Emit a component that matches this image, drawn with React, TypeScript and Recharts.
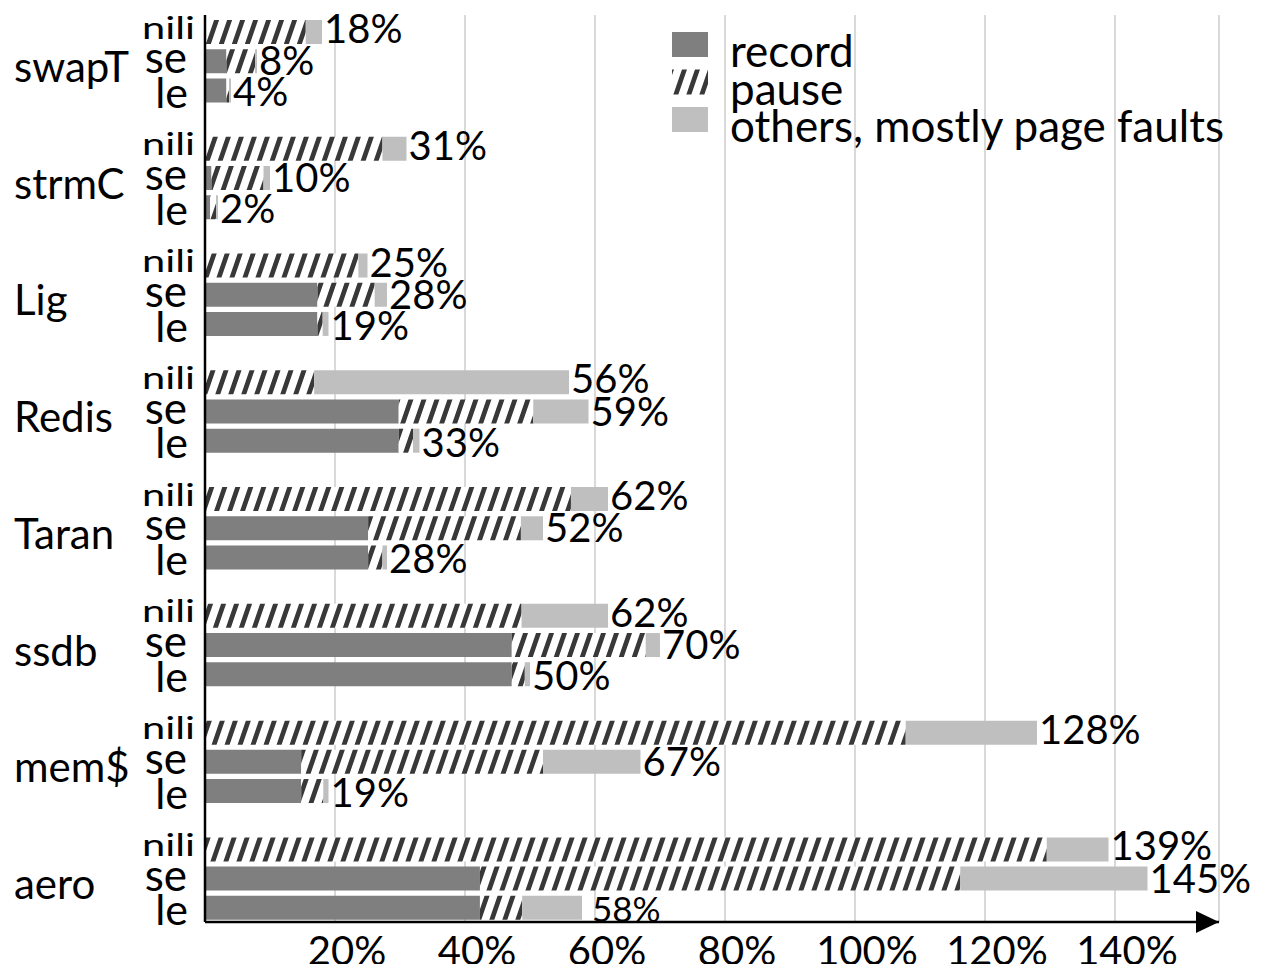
import React from "react";
import {
  BarChart,
  Bar,
  XAxis,
  YAxis,
  CartesianGrid,
  LabelList,
  Legend,
} from "recharts";

const groups = ["swapT", "strmC", "Lig", "Redis", "Taran", "ssdb", "mem$", "aero"];
const modes = ["nili", "se", "le"];

// overhead in % per group, columns are [nili, se, le]
const record = [
  [0, 3.3, 3.3],
  [0, 1.0, 0.8],
  [0, 17.3, 17.3],
  [0, 29.8, 29.8],
  [0, 25.1, 25.1],
  [0, 47.2, 47.2],
  [0, 14.8, 14.8],
  [0, 42.3, 42.3],
];
const pause = [
  [15.5, 4.4, 0.4],
  [27.3, 8.0, 0.9],
  [23.6, 8.8, 0.8],
  [16.8, 20.7, 2.2],
  [56.3, 23.5, 2.2],
  [48.7, 20.6, 2.0],
  [107.8, 37.2, 3.4],
  [129.5, 73.9, 6.5],
];
const others = [
  [2.5, 0.3, 0.3],
  [3.7, 1.0, 0.3],
  [1.4, 1.9, 0.9],
  [39.2, 8.5, 1.0],
  [5.7, 3.4, 0.7],
  [13.3, 2.2, 0.8],
  [20.2, 15.0, 0.8],
  [9.5, 28.8, 9.2],
];
const xTicks = [20, 40, 60, 80, 100, 120, 140];
const seriesOrder = ["record", "pause", "others"];

type Row = {
  id: string;
  group?: string;
  mode?: string;
  record?: number;
  pause?: number;
  others?: number;
  total?: number;
};

// one row per bar, with an empty row between groups
const rows: Row[] = [];
groups.forEach((group, g) => {
  if (g > 0) rows.push({ id: `gap-${g}` });
  modes.forEach((mode, m) => {
    const r = record[g][m];
    const p = pause[g][m];
    const o = others[g][m];
    rows.push({
      id: `${group}-${mode}`,
      group,
      mode,
      record: r,
      pause: p,
      others: o,
      total: Math.round(r + p + o),
    });
  });
});
const byId: Record<string, Row> = Object.fromEntries(rows.map((r) => [r.id, r]));

const FONT = "Lato, 'DejaVu Sans', sans-serif";

const modeText: Record<string, { dy: number; size: number; right: number; length?: number }> = {
  nili: { dy: 7, size: 31, right: 10, length: 53 },
  se: { dy: 12.5, size: 44, right: 18 },
  le: { dy: 18, size: 43, right: 17 },
};
const labelDy: Record<string, number> = { nili: 11, se: 14, le: 16 };

function RowTick(props: any) {
  const { x, y, payload } = props;
  const row = byId[payload.value];
  if (!row || !row.mode) return null;
  const s = modeText[row.mode];
  return (
    <g>
      <text
        x={x - s.right}
        y={y + s.dy}
        textAnchor="end"
        fontSize={s.size}
        fontFamily={FONT}
        fill="#000"
        textLength={s.length}
        lengthAdjust={s.length ? "spacingAndGlyphs" : undefined}
      >
        {row.mode}
      </text>
      {row.mode === "se" && (
        <text x={x - 191} y={y + 21} fontSize={42} fontFamily={FONT} fill="#000">
          {row.group}
        </text>
      )}
    </g>
  );
}

function PctTick(props: any) {
  const { x, y, payload } = props;
  return (
    <text x={x + 12} y={y + 43} textAnchor="middle" fontSize={40} fontFamily={FONT} fill="#000">
      {payload.value}%
    </text>
  );
}

function TotalLabel(props: any) {
  const { x, y, width, height, value } = props;
  const row = byId[value];
  if (!row || row.total == null) return null;
  const cy = y + height / 2;
  // the last label sits tight against the axis, so it is drawn smaller
  const small = row.id === "aero-le";
  return (
    <text
      x={x + width + (small ? 10 : 2)}
      y={cy + (small ? 14 : labelDy[row.mode!])}
      fontSize={small ? 35 : 40}
      fontFamily={FONT}
      fill="#000"
    >
      {row.total}%
    </text>
  );
}

function LegendBox(props: any) {
  const items = [...(props.payload || [])].sort(
    (a: any, b: any) => seriesOrder.indexOf(a.dataKey) - seriesOrder.indexOf(b.dataKey)
  );
  return (
    <svg width={600} height={135} style={{ display: "block" }}>
      {items.map((p: any, i: number) => (
        <g key={p.value}>
          <rect x={12} y={12 + i * 37.5} width={36} height={25} fill={p.color} />
          <text x={70} y={47 + i * 37.5} fontSize={44} fontFamily={FONT} fill="#000">
            {p.value}
          </text>
        </g>
      ))}
    </svg>
  );
}

export default function App() {
  return (
    <div style={{ margin: "-8px", fontFamily: FONT }}>
      <BarChart
        width={1270}
        height={972}
        data={rows}
        layout="vertical"
        margin={{ top: 15, right: 51, bottom: 0, left: 0 }}
        barSize={24}
      >
        <defs>
          <pattern
            id="hatch"
            patternUnits="userSpaceOnUse"
            width={13}
            height={30}
            patternTransform="skewX(-19)"
          >
            <rect width={13} height={30} fill="#fff" />
            <rect x={0} width={5} height={30} fill="#383838" />
          </pattern>
          <marker
            id="axisArrow"
            viewBox="0 0 23 22"
            refX={23}
            refY={11}
            markerWidth={23}
            markerHeight={22}
            markerUnits="userSpaceOnUse"
            orient="auto"
          >
            <path d="M0,0 L23,11 L0,22 Z" fill="#000" />
          </marker>
        </defs>
        <CartesianGrid horizontal={false} stroke="#d9d9d9" strokeWidth={2} />
        <XAxis
          type="number"
          domain={[0, 156]}
          ticks={xTicks}
          allowDataOverflow
          height={50}
          tickSize={0}
          tickMargin={0}
          tickLine={false}
          tick={<PctTick />}
          axisLine={{ stroke: "#000", strokeWidth: 2.5, markerEnd: "url(#axisArrow)" } as any}
        />
        <YAxis
          type="category"
          dataKey="id"
          width={205}
          interval={0}
          padding={{ top: 2, bottom: 0 }}
          tickSize={0}
          tickMargin={0}
          tickLine={false}
          tick={<RowTick />}
          axisLine={{ stroke: "#000", strokeWidth: 2.5 }}
        />
        <Legend
          layout="vertical"
          align="center"
          verticalAlign="middle"
          content={<LegendBox />}
          wrapperStyle={{ left: 660, top: 20, width: 600 }}
        />
        <Bar dataKey="record" name="record" stackId="t" fill="#7f7f7f" isAnimationActive={false} />
        <Bar dataKey="pause" name="pause" stackId="t" fill="url(#hatch)" isAnimationActive={false} />
        <Bar
          dataKey="others"
          name="others, mostly page faults"
          stackId="t"
          fill="#bfbfbf"
          isAnimationActive={false}
        >
          <LabelList dataKey="id" content={<TotalLabel />} />
        </Bar>
      </BarChart>
    </div>
  );
}
